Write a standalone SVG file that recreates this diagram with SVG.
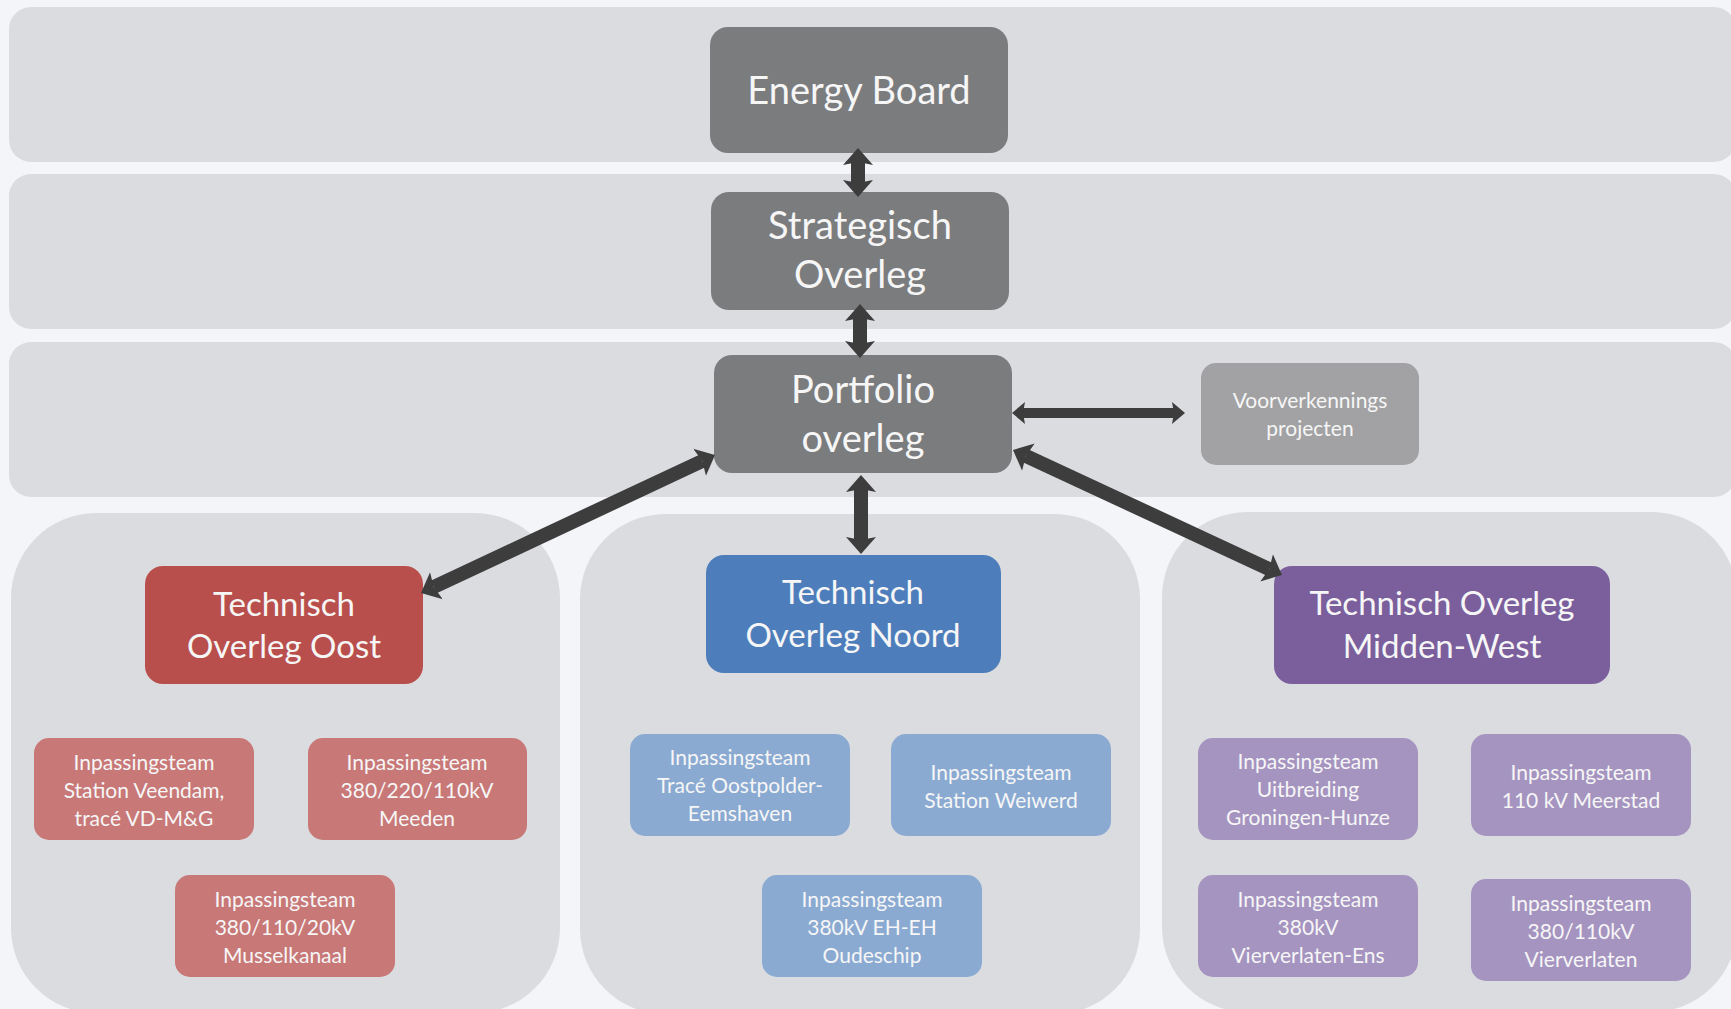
<svg xmlns="http://www.w3.org/2000/svg" width="1731" height="1009" viewBox="0 0 1731 1009">
<style>
.band{fill:#dbdce0}
.node{fill:#7b7c7e}
.t{font-family:Lato,"Open Sans",sans-serif;fill:#f6f6f6;text-anchor:middle}
.big{font-size:38px}
.mid{font-size:33px}
.sm{font-size:21px}
.conn{stroke:#3d3d3d;stroke-width:14;fill:none}
.thin{stroke-width:10}
</style>
<defs>
<marker id="ah" markerUnits="userSpaceOnUse" orient="auto-start-reverse" markerWidth="20" markerHeight="34" viewBox="0 -17 20 34" refX="3" refY="0">
<path d="M0,-15 L17,0 L0,15 L3,0 z" fill="#3d3d3d"/>
</marker>
<marker id="ahs" markerUnits="userSpaceOnUse" orient="auto-start-reverse" markerWidth="16" markerHeight="26" viewBox="0 -13 16 26" refX="2" refY="0">
<path d="M0,-11 L13,0 L0,11 L2,0 z" fill="#3d3d3d"/>
</marker>
</defs>
<rect x="0" y="0" width="1731" height="1009" fill="#f4f5f9"/>
<g id="bands">
<rect class="band" x="9" y="7" width="1727" height="155" rx="22"/>
<rect class="band" x="9" y="174" width="1727" height="155" rx="22"/>
<rect class="band" x="9" y="342" width="1727" height="155" rx="22"/>
<rect class="band" x="11" y="513" width="549" height="500" rx="85"/>
<rect class="band" x="580" y="514" width="560" height="500" rx="85"/>
<rect class="band" x="1162" y="512" width="575" height="500" rx="85"/>
</g>
<g id="energy-board">
<rect class="node" x="710" y="27" width="298" height="126" rx="18"/>
<text class="t big" x="859" y="104">Energy Board</text>
</g>
<g id="strategisch-overleg">
<rect class="node" x="711" y="192" width="298" height="118" rx="18"/>
<text class="t big" x="860" y="239">Strategisch</text>
<text class="t big" x="860" y="288">Overleg</text>
</g>
<g id="portfolio-overleg">
<rect class="node" x="714" y="355" width="298" height="118" rx="18"/>
<text class="t big" x="863" y="403">Portfolio</text>
<text class="t big" x="863" y="452">overleg</text>
</g>
<g id="voorverkennings-projecten">
<rect x="1201" y="363" width="218" height="102" rx="15" fill="#a2a2a4"/>
<text class="t sm" x="1310" y="408">Voorverkennings</text>
<text class="t sm" x="1310" y="436">projecten</text>
</g>
<g id="technisch-overleg-oost">
<rect x="145" y="566" width="278" height="118" rx="18" fill="#b94f4c"/>
<text class="t mid" x="284" y="616">Technisch</text>
<text class="t mid" x="284" y="658">Overleg Oost</text>
</g>
<g id="technisch-overleg-noord">
<rect x="706" y="555" width="295" height="118" rx="18" fill="#4d7ebb"/>
<text class="t mid" x="853" y="604">Technisch</text>
<text class="t mid" x="853" y="647">Overleg Noord</text>
</g>
<g id="technisch-overleg-midden-west">
<rect x="1274" y="566" width="336" height="118" rx="18" fill="#7b5f9d"/>
<text class="t mid" x="1442" y="615">Technisch Overleg</text>
<text class="t mid" x="1442" y="658">Midden-West</text>
</g>
<g id="oost-1">
<rect x="34" y="738" width="220" height="102" rx="15" fill="#c87877"/>
<text class="t sm" x="144" y="770">Inpassingsteam</text>
<text class="t sm" x="144" y="798">Station Veendam,</text>
<text class="t sm" x="144" y="826">tracé VD-M&amp;G</text>
</g>
<g id="oost-2">
<rect x="308" y="738" width="219" height="102" rx="15" fill="#c87877"/>
<text class="t sm" x="417" y="770">Inpassingsteam</text>
<text class="t sm" x="417" y="798">380/220/110kV</text>
<text class="t sm" x="417" y="826">Meeden</text>
</g>
<g id="oost-3">
<rect x="175" y="875" width="220" height="102" rx="15" fill="#c87877"/>
<text class="t sm" x="285" y="907">Inpassingsteam</text>
<text class="t sm" x="285" y="935">380/110/20kV</text>
<text class="t sm" x="285" y="963">Musselkanaal</text>
</g>
<g id="noord-1">
<rect x="630" y="734" width="220" height="102" rx="15" fill="#8aaad2"/>
<text class="t sm" x="740" y="765">Inpassingsteam</text>
<text class="t sm" x="740" y="793">Tracé Oostpolder-</text>
<text class="t sm" x="740" y="821">Eemshaven</text>
</g>
<g id="noord-2">
<rect x="891" y="734" width="220" height="102" rx="15" fill="#8aaad2"/>
<text class="t sm" x="1001" y="780">Inpassingsteam</text>
<text class="t sm" x="1001" y="808">Station Weiwerd</text>
</g>
<g id="noord-3">
<rect x="762" y="875" width="220" height="102" rx="15" fill="#8aaad2"/>
<text class="t sm" x="872" y="907">Inpassingsteam</text>
<text class="t sm" x="872" y="935">380kV EH-EH</text>
<text class="t sm" x="872" y="963">Oudeschip</text>
</g>
<g id="mw-1">
<rect x="1198" y="738" width="220" height="102" rx="15" fill="#a594c0"/>
<text class="t sm" x="1308" y="769">Inpassingsteam</text>
<text class="t sm" x="1308" y="797">Uitbreiding</text>
<text class="t sm" x="1308" y="825">Groningen-Hunze</text>
</g>
<g id="mw-2">
<rect x="1471" y="734" width="220" height="102" rx="15" fill="#a594c0"/>
<text class="t sm" x="1581" y="780">Inpassingsteam</text>
<text class="t sm" x="1581" y="808">110 kV Meerstad</text>
</g>
<g id="mw-3">
<rect x="1198" y="875" width="220" height="102" rx="15" fill="#a594c0"/>
<text class="t sm" x="1308" y="907">Inpassingsteam</text>
<text class="t sm" x="1308" y="935">380kV</text>
<text class="t sm" x="1308" y="963">Vierverlaten-Ens</text>
</g>
<g id="mw-4">
<rect x="1471" y="879" width="220" height="102" rx="15" fill="#a594c0"/>
<text class="t sm" x="1581" y="911">Inpassingsteam</text>
<text class="t sm" x="1581" y="939">380/110kV</text>
<text class="t sm" x="1581" y="967">Vierverlaten</text>
</g>
<g id="connectors">
<line class="conn" x1="858" y1="162" x2="858" y2="183" marker-start="url(#ah)" marker-end="url(#ah)"/>
<line class="conn" x1="860" y1="318" x2="860" y2="344" marker-start="url(#ah)" marker-end="url(#ah)"/>
<line class="conn" x1="861" y1="489" x2="861" y2="540" marker-start="url(#ah)" marker-end="url(#ah)"/>
<line class="conn thin" x1="1023" y1="413" x2="1174" y2="413" marker-start="url(#ahs)" marker-end="url(#ahs)"/>
<line class="conn" x1="702.3" y1="461" x2="433.7" y2="587" marker-start="url(#ah)" marker-end="url(#ah)"/>
<line class="conn" x1="1025.7" y1="455.9" x2="1269.3" y2="569.1" marker-start="url(#ah)" marker-end="url(#ah)"/>
</g>
</svg>
